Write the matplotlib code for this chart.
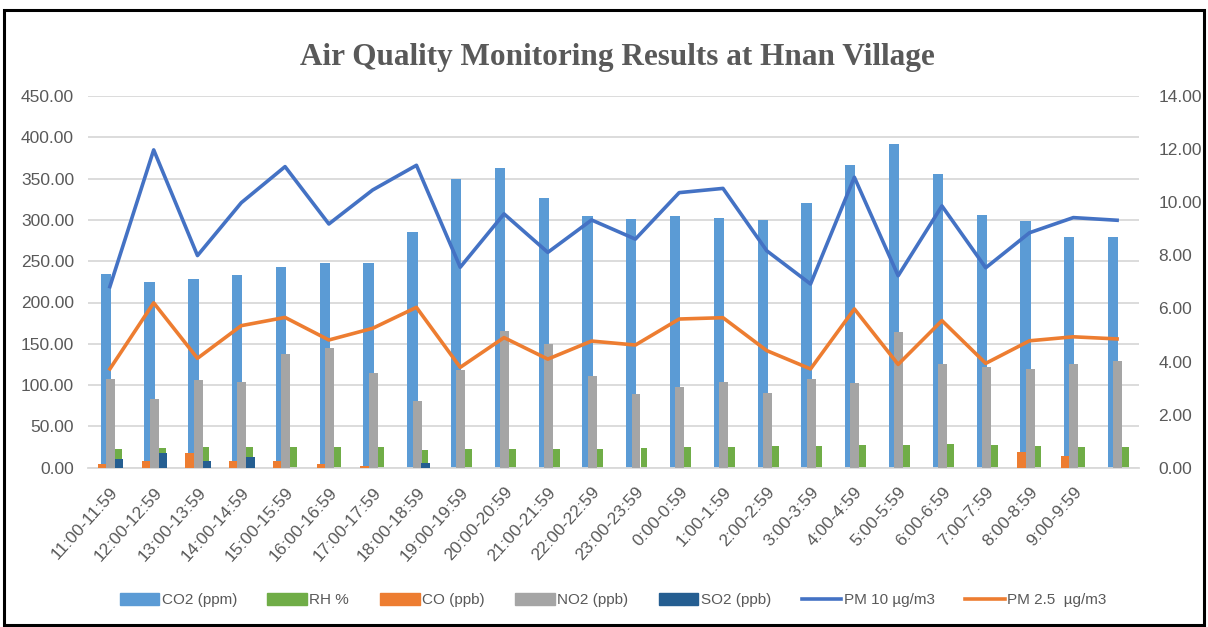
import matplotlib
matplotlib.use("Agg")
import matplotlib.pyplot as plt
import numpy as np
from matplotlib.patches import Rectangle, Patch
from matplotlib.lines import Line2D

categories = ["11:00-11:59", "12:00-12:59", "13:00-13:59", "14:00-14:59", "15:00-15:59",
              "16:00-16:59", "17:00-17:59", "18:00-18:59", "19:00-19:59", "20:00-20:59",
              "21:00-21:59", "22:00-22:59", "23:00-23:59", "0:00-0:59", "1:00-1:59",
              "2:00-2:59", "3:00-3:59", "4:00-4:59", "5:00-5:59", "6:00-6:59",
              "7:00-7:59", "8:00-8:59", "9:00-9:59", ""]

co2 = [234, 225, 229, 233, 243, 248, 248, 285, 350, 363, 327, 305, 301, 305, 302, 300,
       321, 367, 392, 356, 306, 299, 279, 279]
rh = [22.6, 23.8, 25.4, 25.4, 25.4, 25.4, 25.4, 21.8, 22.6, 22.6, 22.6, 22.6, 23.8, 25.0,
      25.0, 26.6, 26.6, 27.8, 27.8, 29.0, 27.8, 26.6, 25.4, 25.4]
co = [4.8, 7.7, 17.8, 7.7, 7.7, 4.8, 2.4, 0, 0, 0, 0, 0, 0, 0, 0, 0, 0, 0, 0, 0, 0,
      19.4, 14.2, 0]
no2 = [107.4, 83.2, 106.2, 103.8, 138.0, 144.5, 115.0, 80.8, 117.9, 165.1, 149.8, 111.4,
       89.6, 97.3, 104.1, 90.8, 107.8, 102.5, 163.9, 125.5, 121.5, 119.1, 125.5, 129.2]
so2 = [10.5, 17.8, 7.7, 12.9, 0, 0, 0, 6.1, 0, 0, 0, 0, 0, 0, 0, 0, 0, 0, 0, 0, 0, 0, 0, 0]
pm10 = [6.82, 11.97, 7.99, 9.98, 11.34, 9.18, 10.46, 11.39, 7.55, 9.56, 8.11, 9.33, 8.61,
        10.36, 10.52, 8.17, 6.92, 10.94, 7.23, 9.86, 7.53, 8.85, 9.42, 9.32]
pm25 = [3.72, 6.21, 4.12, 5.35, 5.66, 4.81, 5.25, 6.04, 3.78, 4.90, 4.09, 4.77, 4.62, 5.60,
        5.65, 4.41, 3.72, 5.98, 3.89, 5.54, 3.93, 4.78, 4.93, 4.85]
left_ticks = np.arange(0, 451, 50)
right_ticks = np.arange(0, 15, 2)

W, H = 1208, 627
fig = plt.figure(figsize=(W / 100, H / 100), dpi=100)
fig.patch.set_facecolor("white")

txt = "#595959"
grid = "#d9d9d9"
fam = "Liberation Sans"

ax = fig.add_axes([88 / W, 1 - 467.7 / H, (1139 - 88) / W, (467.7 - 96) / H])
ax2 = ax.twinx()

x = np.arange(len(categories))
ax.bar(x - 0.093, co2, width=0.235, color="#5B9BD5", zorder=2)
ax.bar(x + 0.194, rh, width=0.153, color="#70AD47", zorder=2)
ax.bar(x - 0.183, co, width=0.19, color="#ED7D31", zorder=3)
ax.bar(x + 0.014, no2, width=0.205, color="#A5A5A5", zorder=3)
ax.bar(x + 0.21, so2, width=0.19, color="#255E91", zorder=3)

ax.set_xlim(-0.5, len(categories) - 0.5)
ax.set_ylim(0, 450)
ax.set_yticks(left_ticks)
ax.set_yticklabels([f"{v:.2f}" for v in left_ticks], family=fam, fontsize=12.5, color=txt)
ax.grid(axis="y", color=grid, linewidth=1.3, zorder=0)
ax.set_axisbelow(True)
ax.set_xticks(x)
ax.set_xticklabels(categories, rotation=48, ha="right", rotation_mode="anchor",
                   family=fam, fontsize=12.5, color=txt)
ax.tick_params(axis="y", length=0, pad=10)
ax.tick_params(axis="x", length=0, pad=12)
for s in ["top", "right", "left"]:
    ax.spines[s].set_visible(False)
ax.spines["bottom"].set_color(grid)
ax.spines["bottom"].set_linewidth(1.3)

ax2.plot(x, pm10, color="#4472C4", linewidth=2.6, solid_joinstyle="round", zorder=5)
ax2.plot(x, pm25, color="#ED7D31", linewidth=2.6, solid_joinstyle="round", zorder=5)
ax2.set_ylim(0, 14)
ax2.set_yticks(right_ticks)
ax2.set_yticklabels([f"{v:.2f}" for v in right_ticks], family=fam, fontsize=12.5, color=txt)
ax2.tick_params(axis="y", length=0, pad=14)
for s in ax2.spines.values():
    s.set_visible(False)

fig.text(617 / W, 1 - 58 / H, "Air Quality Monitoring Results at Hnan Village",
         ha="center", va="center", family="Liberation Serif", fontweight="bold",
         fontsize=22.5, color=txt)

handles = [Patch(color="#5B9BD5"), Patch(color="#70AD47"), Patch(color="#ED7D31"),
           Patch(color="#A5A5A5"), Patch(color="#255E91"),
           Line2D([], [], color="#4472C4", linewidth=2.6),
           Line2D([], [], color="#ED7D31", linewidth=2.6)]
labels = ["CO2 (ppm)", "RH %", "CO (ppb)", "NO2 (ppb)", "SO2 (ppb)", "PM 10 µg/m3", "PM 2.5  µg/m3"]
fig.legend(handles, labels, loc="center", bbox_to_anchor=(613 / W, 1 - 600 / H), ncol=7,
           frameon=False, prop={"family": fam, "size": 11}, labelcolor=txt,
           handlelength=2.6, handleheight=0.8, handletextpad=0.15, columnspacing=2.0)

fig.add_artist(Rectangle((4 / W, 2 / H), (W - 8) / W, (H - 12) / H, transform=fig.transFigure,
                         fill=False, edgecolor="black", linewidth=2.2))

fig.savefig("out.png", dpi=100, facecolor="white")
